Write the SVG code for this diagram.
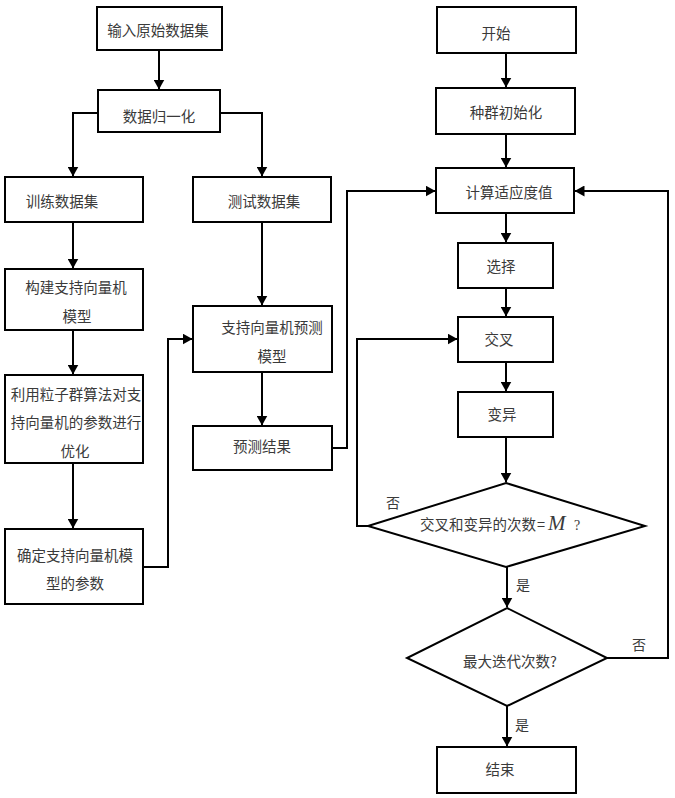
<svg xmlns="http://www.w3.org/2000/svg" width="675" height="798" viewBox="0 0 675 798">
<style>
.box{fill:#fff;stroke:#000;stroke-width:2}
.ln{fill:none;stroke:#000;stroke-width:2}
.t{font-family:"Noto Sans CJK SC","Noto Sans",sans-serif;font-size:14.5px;fill:#3a3a3a;text-anchor:middle}
.l{font-family:"Noto Sans CJK SC","Noto Sans",sans-serif;font-size:14px;fill:#3a3a3a;text-anchor:middle}
</style>
<defs>
<marker id="ah" markerWidth="10" markerHeight="11" viewBox="0 0 10 11" refX="9.5" refY="5.5" orient="auto" markerUnits="userSpaceOnUse">
<path d="M0,0 L10,5.5 L0,11 Z" fill="#000"/>
</marker>
</defs>
<rect width="675" height="798" fill="#fff"/>
<g id="connectors">
<path class="ln" d="M159,50 V89" marker-end="url(#ah)"/>
<path class="ln" d="M98,113 H73 V176" marker-end="url(#ah)"/>
<path class="ln" d="M220,113 H262 V176" marker-end="url(#ah)"/>
<path class="ln" d="M73,222 V268" marker-end="url(#ah)"/>
<path class="ln" d="M73,330 V374" marker-end="url(#ah)"/>
<path class="ln" d="M73,463 V528" marker-end="url(#ah)"/>
<path class="ln" d="M143,567 H168 V339 H192" marker-end="url(#ah)"/>
<path class="ln" d="M262,222 V305" marker-end="url(#ah)"/>
<path class="ln" d="M262,372 V425" marker-end="url(#ah)"/>
<path class="ln" d="M332,448 H347 V191 H435" marker-end="url(#ah)"/>
<path class="ln" d="M506,53 V87" marker-end="url(#ah)"/>
<path class="ln" d="M506,134 V167" marker-end="url(#ah)"/>
<path class="ln" d="M506,213 V242" marker-end="url(#ah)"/>
<path class="ln" d="M506,288 V316" marker-end="url(#ah)"/>
<path class="ln" d="M506,362 V391" marker-end="url(#ah)"/>
<path class="ln" d="M506,437 V482" marker-end="url(#ah)"/>
<path class="ln" d="M368,526 H357 V339 H457" marker-end="url(#ah)"/>
<path class="ln" d="M507,567 V607" marker-end="url(#ah)"/>
<path class="ln" d="M607,658 H668 V191 H575" marker-end="url(#ah)"/>
<path class="ln" d="M507,706 V746" marker-end="url(#ah)"/>
<text class="l" x="393" y="508">否</text>
<text class="l" x="639" y="650">否</text>
<text class="l" x="523" y="590">是</text>
<text class="l" x="522" y="730">是</text>
</g>
<g id="n1"><rect class="box" x="97" y="7" width="125" height="43"/><text class="t" x="158" y="36">输入原始数据集</text></g>
<g id="n2"><rect class="box" x="98" y="90" width="122" height="42"/><text class="t" x="159" y="122">数据归一化</text></g>
<g id="n3"><rect class="box" x="5" y="177" width="138" height="45"/><text class="t" x="62" y="207">训练数据集</text></g>
<g id="n4"><rect class="box" x="193" y="177" width="138" height="45"/><text class="t" x="264" y="207">测试数据集</text></g>
<g id="n5"><rect class="box" x="5" y="269" width="138" height="61"/><text class="t" x="76" y="293">构建支持向量机</text><text class="t" x="77" y="322">模型</text></g>
<g id="n6"><rect class="box" x="5" y="375" width="138" height="88"/><text class="t" x="76" y="400">利用粒子群算法对支</text><text class="t" x="76" y="428">持向量机的参数进行</text><text class="t" x="75" y="457">优化</text></g>
<g id="n7"><rect class="box" x="5" y="529" width="138" height="75"/><text class="t" x="75" y="561">确定支持向量机模</text><text class="t" x="75" y="589">型的参数</text></g>
<g id="n8"><rect class="box" x="193" y="306" width="139" height="66"/><text class="t" x="272" y="333">支持向量机预测</text><text class="t" x="272" y="362">模型</text></g>
<g id="n9"><rect class="box" x="193" y="426" width="139" height="44"/><text class="t" x="262" y="452">预测结果</text></g>
<g id="n10"><rect class="box" x="437" y="7" width="139" height="46"/><text class="t" x="496" y="39">开始</text></g>
<g id="n11"><rect class="box" x="436" y="88" width="139" height="46"/><text class="t" x="506" y="118">种群初始化</text></g>
<g id="n12"><rect class="box" x="436" y="168" width="138" height="45"/><text class="t" x="509" y="198">计算适应度值</text></g>
<g id="n13"><rect class="box" x="458" y="243" width="95" height="45"/><text class="t" x="501" y="272">选择</text></g>
<g id="n14"><rect class="box" x="458" y="317" width="95" height="45"/><text class="t" x="499" y="345">交叉</text></g>
<g id="n15"><rect class="box" x="458" y="392" width="95" height="45"/><text class="t" x="502" y="420">变异</text></g>
<g id="n16"><polygon class="box" points="506,483 645,526 506,567 368,526"/><text class="t" style="text-anchor:start" y="530"><tspan x="420">交叉和变异的次数</tspan><tspan x="537">=</tspan><tspan x="548" style="font-family:'Liberation Serif',serif;font-style:italic;font-size:21px">M</tspan><tspan x="574" style="font-family:'Liberation Serif',serif;font-size:14px">?</tspan></text></g>
<g id="n17"><polygon class="box" points="507,608 607,658 507,706 407,658"/><text class="t" x="510" y="667">最大迭代次数?</text></g>
<g id="n18"><rect class="box" x="437" y="747" width="139" height="46"/><text class="t" x="500" y="775">结束</text></g>
</svg>
